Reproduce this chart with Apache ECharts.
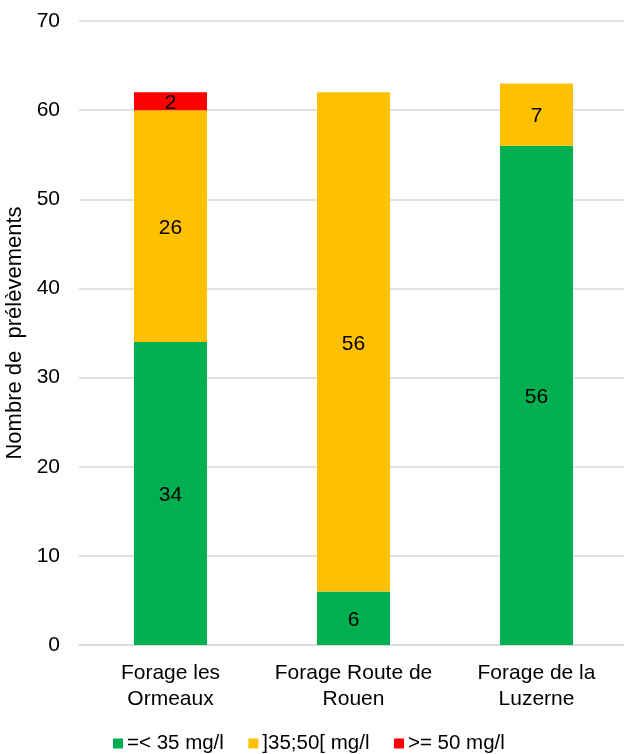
<!DOCTYPE html>
<html>
<head>
<meta charset="utf-8">
<style>
  html, body { margin: 0; padding: 0; background: #fff; }
  #chart { width: 624px; height: 754px; }
</style>
<script src="https://cdn.jsdelivr.net/npm/echarts@6/dist/echarts.min.js"></script>
</head>
<body>
<div id="chart"></div>
<script>
// Nombre de prélèvements par forage et par classe de concentration
const categories = ['Forage les\nOrmeaux', 'Forage Route de\nRouen', 'Forage de la\nLuzerne'];
const seriesNames = ['=< 35 mg/l', ']35;50[ mg/l', '>= 50 mg/l'];
const lowValues = [34, 6, 56];
const midValues = [26, 56, 7];
const highValues = [2, null, null];
const yTicks = { min: 0, max: 70, interval: 10 };

const FONT = 'Liberation Sans, Arial, sans-serif';
const FS = 21;
const colors = ['#00B050', '#FFC000', '#FF0000'];

const chart = echarts.init(document.getElementById('chart'), null, { renderer: 'canvas' });

const labelStyle = {
  show: true,
  position: 'inside',
  offset: [0, 2],
  color: '#000',
  fontFamily: FONT,
  fontSize: FS
};

function makeSeries(name, data, color) {
  return {
    name: name,
    type: 'bar',
    stack: 'total',
    barWidth: 73,
    data: data,
    itemStyle: { color: color },
    label: labelStyle,
    emphasis: { disabled: true }
  };
}

chart.setOption({
  animation: false,
  textStyle: { fontFamily: FONT },
  grid: {
    left: 79, width: 549, top: 21, bottom: 109,
    containLabel: false,
    outerBoundsMode: 'none'
  },
  legend: {
    bottom: -5,
    left: 108,
    itemWidth: 10,
    itemHeight: 10,
    itemGap: 24.5,
    icon: 'rect',
    textStyle: { color: '#000', fontSize: 20.5, fontFamily: FONT, padding: [0, 0, 0, -1] },
    data: seriesNames
  },
  xAxis: {
    type: 'category',
    data: categories,
    axisLine: { show: true, lineStyle: { color: '#d9d9d9', width: 1.5 } },
    axisTick: { show: false },
    axisLabel: { interval: 0, color: '#000', fontSize: FS, fontFamily: FONT, lineHeight: 26, margin: 15 }
  },
  yAxis: {
    type: 'value',
    min: yTicks.min,
    max: yTicks.max,
    interval: yTicks.interval,
    name: 'Nombre de  prélèvements',
    nameLocation: 'middle',
    nameGap: 52,
    nameTextStyle: { color: '#000', fontSize: 22, fontFamily: FONT },
    axisLine: { show: false },
    axisTick: { show: false },
    axisLabel: { color: '#000', fontSize: FS, fontFamily: FONT, margin: 19 },
    splitLine: { lineStyle: { color: '#d9d9d9', width: 1.5 } }
  },
  series: [
    makeSeries(seriesNames[0], lowValues, colors[0]),
    makeSeries(seriesNames[1], midValues, colors[1]),
    makeSeries(seriesNames[2], highValues, colors[2])
  ]
});
</script>
</body>
</html>
